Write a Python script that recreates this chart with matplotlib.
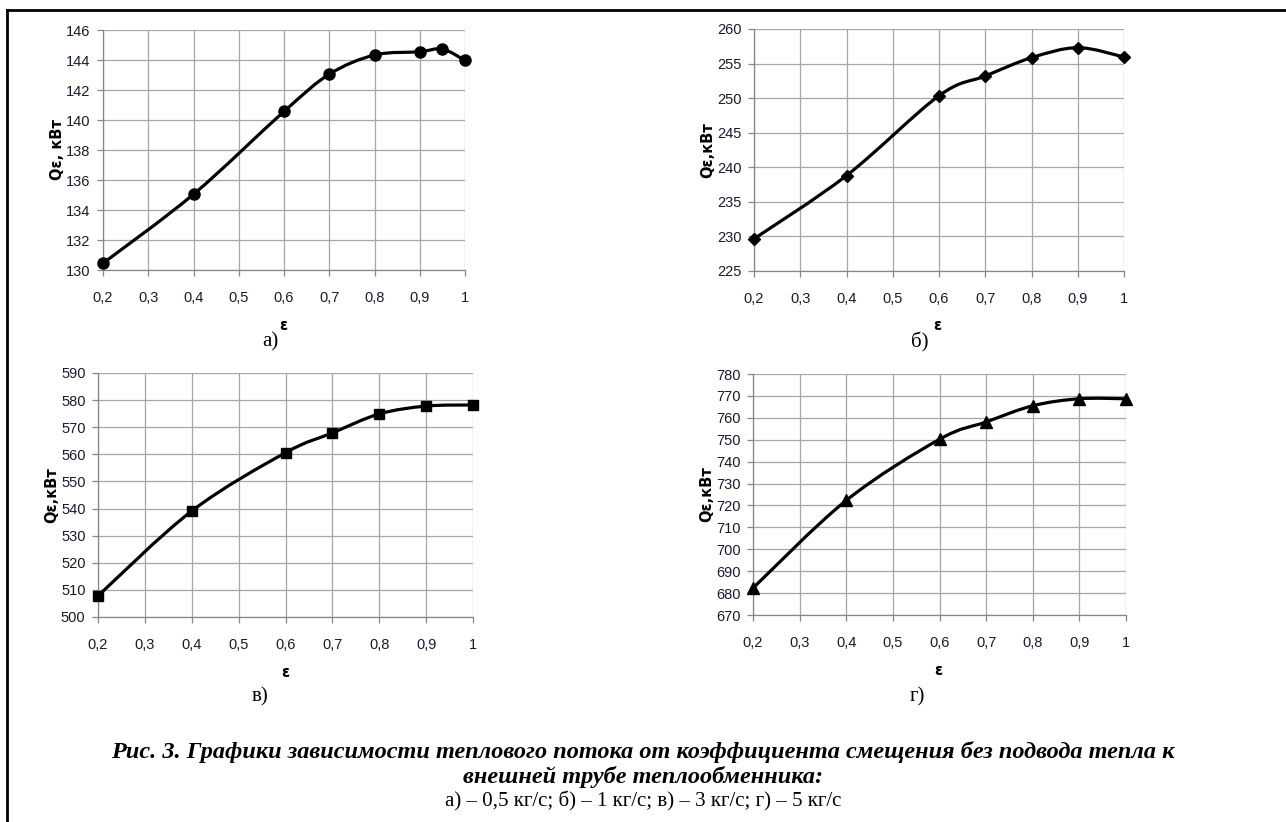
import matplotlib
matplotlib.use("Agg")
import matplotlib.pyplot as plt
from matplotlib.path import Path
from matplotlib.patches import PathPatch
from matplotlib.lines import Line2D
from matplotlib.ticker import FuncFormatter
import numpy as np

# data
eps_a = [0.2, 0.4, 0.6, 0.7, 0.8, 0.9, 0.95, 1.0]
q_a = [130.45, 135.05, 140.57, 143.05, 144.33, 144.55, 144.73, 143.97]

eps_b = [0.2, 0.4, 0.6, 0.7, 0.8, 0.9, 1.0]
q_b = [229.65, 238.8, 250.35, 253.2, 255.85, 257.3, 255.95]

eps_c = [0.2, 0.4, 0.6, 0.7, 0.8, 0.9, 1.0]
q_c = [507.8, 539.1, 560.6, 567.9, 574.9, 577.8, 578.2]

eps_d = [0.2, 0.4, 0.6, 0.7, 0.8, 0.9, 1.0]
q_d = [682.3, 722.3, 750.2, 758.1, 765.5, 768.7, 768.7]

x_ticks = [0.2, 0.3, 0.4, 0.5, 0.6, 0.7, 0.8, 0.9, 1.0]
ylab = ['Qε, кВт', 'Qε,кВт', 'Qε,кВт', 'Qε,кВт']
panel_labels = ['а)', 'б)', 'в)', 'г)']
caption1 = 'Рис. 3. Графики зависимости теплового потока от коэффициента смещения без подвода тепла к'
caption2 = 'внешней трубе теплообменника:'
caption3 = 'а) – 0,5 кг/с; б) – 1 кг/с; в) – 3 кг/с; г) – 5 кг/с'

GRID = '#a6a6a6'
TICKFONT = ['Liberation Sans', 'DejaVu Sans']


def smooth_path(x, y):
    # excel-like smoothed line: cubic bezier segments, catmull-rom tangents
    pts = np.column_stack([x, y]).astype(float)
    n = len(pts)
    verts = [pts[0]]
    codes = [Path.MOVETO]
    for i in range(n - 1):
        p0 = pts[i - 1] if i > 0 else pts[i]
        p1 = pts[i]
        p2 = pts[i + 1]
        p3 = pts[i + 2] if i + 2 < n else pts[i + 1]
        c1 = p1 + (p2 - p0) / 6.0
        c2 = p2 - (p3 - p1) / 6.0
        verts += [c1, c2, p2]
        codes += [Path.CURVE4] * 3
    return Path(verts, codes)


def comma(v, pos):
    s = ('%g' % round(v, 2)).replace('.', ',')
    return s


def draw_panel(ax, x, y, ylim, ystep, marker, ms, ylabel):
    patch = PathPatch(smooth_path(x, y), facecolor='none', edgecolor='black',
                      lw=2.3, transform=ax.transData, zorder=3, capstyle='round')
    ax.add_patch(patch)
    ax.plot(x, y, linestyle='none', marker=marker, ms=ms, color='black',
            zorder=4, clip_on=False)
    ax.set_xlim(0.2, 1.0)
    ax.set_ylim(*ylim)
    ax.set_xticks(x_ticks)
    ax.set_yticks(np.arange(ylim[0], ylim[1] + ystep / 2, ystep))
    ax.xaxis.set_major_formatter(FuncFormatter(comma))
    ax.yaxis.set_major_formatter(FuncFormatter(comma))
    ax.grid(True, color=GRID, lw=0.9)
    ax.set_axisbelow(True)
    for s in ['top', 'right']:
        ax.spines[s].set_visible(False)
    for s in ['left', 'bottom']:
        ax.spines[s].set_color('#868686')
        ax.spines[s].set_linewidth(0.9)
    ax.tick_params(axis='both', direction='out', length=4, width=0.9,
                   color='#868686', labelcolor='#1a1a2e', labelsize=10.5)
    ax.tick_params(axis='x', pad=11)
    ax.tick_params(axis='y', pad=5)
    for lab in ax.get_xticklabels() + ax.get_yticklabels():
        lab.set_family(TICKFONT)
    ax.set_ylabel(ylabel, fontsize=10.5, fontweight='bold', family='DejaVu Sans',
                  labelpad=1)


fig = plt.figure(figsize=(12.86, 8.22), dpi=100)
W, H = 1286.0, 822.0


def axes_px(l, t, r, b):
    return fig.add_axes([l / W, 1 - b / H, (r - l) / W, (b - t) / H])


ax_a = axes_px(103, 30, 465, 270)
ax_b = axes_px(754, 29, 1124, 271)
ax_c = axes_px(98, 373, 473, 617)
ax_d = axes_px(753, 374, 1126, 615)

draw_panel(ax_a, eps_a, q_a, (130, 146), 2, 'o', 8, ylab[0])
draw_panel(ax_b, eps_b, q_b, (225, 260), 5, 'D', 6, ylab[1])
draw_panel(ax_c, eps_c, q_c, (500, 590), 10, 's', 7.5, ylab[2])
draw_panel(ax_d, eps_d, q_d, (670, 780), 10, '^', 8, ylab[3])

# x labels and panel letters
for (xp, yp) in [(283, 325), (937, 325), (285, 672), (938, 670)]:
    fig.text(xp / W, 1 - yp / H, 'ε', ha='center', va='center',
             fontsize=10.5, fontweight='bold')
for lab, (xp, yp) in zip(panel_labels, [(270, 342), (920, 342), (260, 697), (917, 697)]):
    fig.text(xp / W, 1 - yp / H, lab, ha='center', va='center',
             fontsize=15, family='Liberation Serif')

# caption
fig.text(643 / W, 1 - 752 / H, caption1, ha='center', va='center', fontsize=17.5,
         family='Liberation Serif', fontweight='bold', fontstyle='italic')
fig.text(643 / W, 1 - 777 / H, caption2, ha='center', va='center', fontsize=17.5,
         family='Liberation Serif', fontweight='bold', fontstyle='italic')
fig.text(643 / W, 1 - 801 / H, caption3, ha='center', va='center', fontsize=15,
         family='Liberation Serif')

# page frame (left and top edges)
fig.add_artist(Line2D([7 / W, 7 / W], [0, 1 - 10 / H], transform=fig.transFigure,
                      color='black', lw=2))
fig.add_artist(Line2D([7 / W, 1], [1 - 10 / H, 1 - 10 / H], transform=fig.transFigure,
                      color='black', lw=2))

fig.savefig('out.png', dpi=100)
